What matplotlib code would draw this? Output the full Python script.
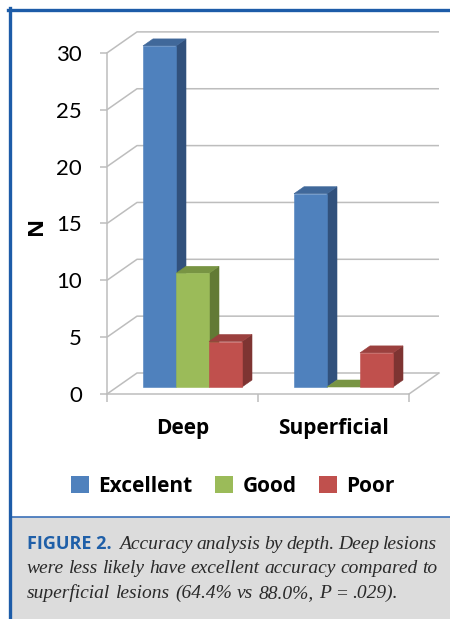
import matplotlib
matplotlib.use('Agg')
import matplotlib.pyplot as plt
from matplotlib.patches import Polygon, Rectangle, Patch

# data
categories = ['Deep', 'Superficial']
series = ['Excellent', 'Good', 'Poor']
excellent = [30, 17]
good = [10, 0]
poor = [4, 3]
y_ticks = [0, 5, 10, 15, 20, 25, 30]

front_colors = ['#4f81bd', '#9bbb59', '#c0504d']
top_colors = ['#40689a', '#789443', '#9b403e']
side_colors = ['#31517c', '#627a35', '#7e3432']
grid_color = '#bdbdbd'
frame_blue = '#1d5ca8'
bold_font = 'Open Sans'

W, H = 450, 619
fig = plt.figure(figsize=(W / 100, H / 100), dpi=100)

# pseudo 3d geometry (pixels)
x_left, y_zero = 107, 394
cat_px, unit_px = 151, 11.37
depth_px = (30, 21)
bar_px = 33

dx = depth_px[0] / cat_px
dy = depth_px[1] / unit_px
ymax = y_ticks[-1]
ax_w = len(categories) * cat_px + depth_px[0]
ax_h = ymax * unit_px + depth_px[1]
ax = fig.add_axes([x_left / W, (H - y_zero) / H, ax_w / W, ax_h / H])
xmin, xmax = -0.5, len(categories) - 0.5 + dx
ax.set_xlim(xmin, xmax)
ax.set_ylim(0, ymax + dy)
ax.patch.set_visible(False)

# back wall grid + side wall diagonals
for t in y_ticks:
    ax.plot([xmin, xmin + dx, xmax], [t, t + dy, t + dy], color=grid_color,
            lw=1.1, zorder=1, clip_on=False, solid_capstyle='butt')
# floor right edge
ax.plot([len(categories) - 0.5, xmax], [0, dy], color=grid_color, lw=1.1,
        zorder=1, clip_on=False)

# bars: front face via ax.bar, top and side faces as polygons
values = [excellent, good, poor]
bar_w = bar_px / cat_px
ddx, ddy = dx / 3, dy / 3
base = dy / 3
z = 3
for g in range(len(categories)):
    for i, vals in enumerate(values):
        v = vals[g]
        x0 = g + (i - len(values) / 2) * bar_w + ddx
        side = [(x0 + bar_w, base), (x0 + bar_w + ddx, base + ddy),
                (x0 + bar_w + ddx, base + v + ddy), (x0 + bar_w, base + v)]
        top = [(x0, base + v), (x0 + bar_w, base + v),
               (x0 + bar_w + ddx, base + v + ddy), (x0 + ddx, base + v + ddy)]
        ax.add_patch(Polygon(side, closed=True, facecolor=side_colors[i],
                             edgecolor=side_colors[i], lw=0.4, zorder=z))
        ax.add_patch(Polygon(top, closed=True, facecolor=top_colors[i],
                             edgecolor=top_colors[i], lw=0.4, zorder=z + 0.1))
        if v > 0:
            ax.bar(x0, v, width=bar_w, bottom=base, align='edge',
                   color=front_colors[i], edgecolor=front_colors[i], lw=0.4,
                   zorder=z + 0.2)
        z += 1

# axes styling
for s in ['top', 'right']:
    ax.spines[s].set_visible(False)
ax.spines['left'].set_bounds(0, ymax)
ax.spines['bottom'].set_bounds(xmin, len(categories) - 0.5)
for s in ['left', 'bottom']:
    ax.spines[s].set_color(grid_color)
    ax.spines[s].set_linewidth(1.1)

ax.set_yticks(y_ticks)
ax.set_yticklabels([str(t) for t in y_ticks], fontsize=16, family='Lato')
ax.tick_params(axis='y', direction='out', length=5, width=1.1,
               color=grid_color, pad=13)
ax.set_xticks(range(len(categories)))
ax.set_xticklabels(categories, fontsize=15, fontweight='bold', family=bold_font)
ax.set_xticks([k - 0.5 for k in range(len(categories) + 1)], minor=True)
ax.tick_params(axis='x', which='major', length=0, pad=17)
ax.tick_params(axis='x', which='minor', direction='out', length=6,
               width=1.1, color=grid_color)

fig.text(37 / W, 1 - 226 / H, 'N', rotation=90, ha='center', va='center',
         fontsize=16, fontweight='bold', family=bold_font)

# legend
handles = [Patch(facecolor=c, edgecolor='none') for c in front_colors]
fig.legend(handles, series, loc='center', bbox_to_anchor=(233 / W, 1 - 486 / H),
           ncol=3, frameon=False, handlelength=0.85, handleheight=0.85,
           handletextpad=0.45, columnspacing=1.1,
           prop={'family': bold_font, 'weight': 'bold', 'size': 15})

# frame and caption box
fig.add_artist(Rectangle((11 / W, 0), 1, (H - 517) / H, transform=fig.transFigure,
                         facecolor='#dcdcdc', edgecolor='none', zorder=0))
fig.add_artist(plt.Line2D([11 / W, 1], [1 - 517 / H] * 2, color='#3b70b8',
                          lw=1.2, transform=fig.transFigure))
fig.add_artist(plt.Line2D([9.5 / W, 9.5 / W], [0, 1 - 8 / H], color=frame_blue,
                          lw=2.4, transform=fig.transFigure))
fig.add_artist(plt.Line2D([8 / W, 1], [1 - 9.5 / H] * 2, color=frame_blue,
                          lw=2.4, transform=fig.transFigure))

# caption, justified word by word
renderer = fig.canvas.get_renderer()
cap_size = 14
cap_it = dict(family='Liberation Serif', style='italic', fontsize=cap_size, color='#2a2a2a')
cap_up = dict(family='Liberation Serif', fontsize=cap_size, color='#2a2a2a')
cap_fig = dict(family=bold_font, fontweight='bold', fontsize=13, color='#1f5fa8')


def place_line(words, y_px, x0_px, x1_px=None, lead=0):
    texts = []
    for w, props in words:
        t = fig.text(0, 1 - y_px / H, w, va='baseline', ha='left', **props)
        texts.append(t)
    widths = [t.get_window_extent(renderer).width for t in texts]
    if x1_px is None:
        gap = cap_size * 1.389 * 0.27
    else:
        gap = (x1_px - x0_px - sum(widths) - lead) / (len(texts) - 1)
    x = x0_px
    for k, (t, wd) in enumerate(zip(texts, widths)):
        t.set_x(x / W)
        x += wd + gap + (lead if k == 0 else 0)


line1 = [('FIGURE 2.', cap_fig)] + [(w, cap_it) for w in
                                     'Accuracy analysis by depth. Deep lesions'.split()]
line2 = [(w, cap_it) for w in 'were less likely have excellent accuracy compared to'.split()]
line3 = [(w, cap_it) for w in 'superficial lesions (64.4% vs 88.0%,'.split()] + \
        [('P', cap_it), ('=', cap_up), ('.029).', cap_it)]
place_line(line1, 549, 27, 437, lead=4)
place_line(line2, 573, 27, 437)
place_line(line3, 598, 27)

fig.savefig('out.png', dpi=100)
